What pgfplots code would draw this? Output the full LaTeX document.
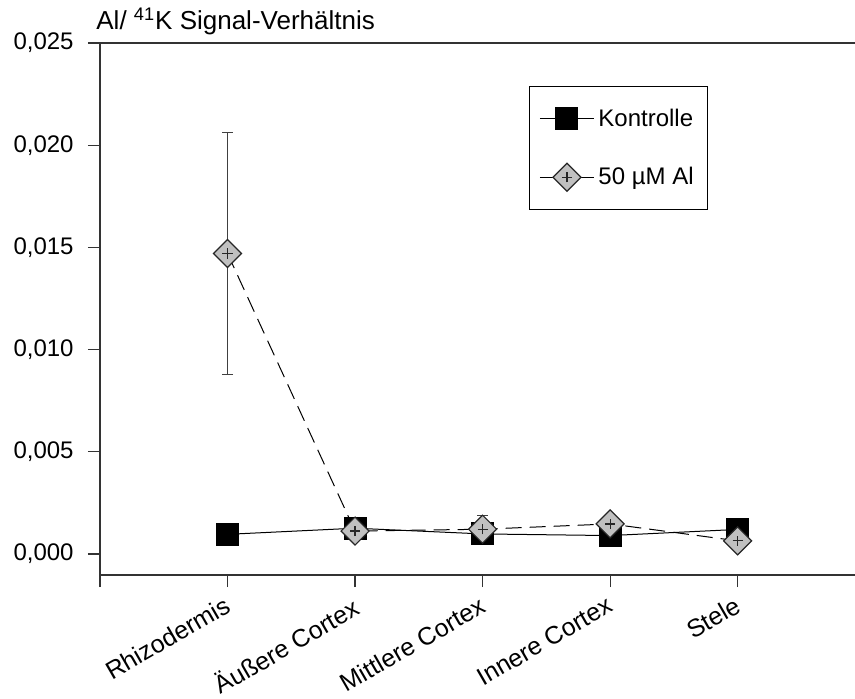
\documentclass[border=0pt]{standalone}
\usepackage{pgfplots}
\pgfplotsset{compat=1.18}
\usepackage{fontspec}
\setmainfont{Liberation Sans}
\definecolor{markgray}{HTML}{C0C0C0}
\pgfdeclareplotmark{dplus}{%
  \pgfpathmoveto{\pgfqpoint{0pt}{\pgfplotmarksize}}%
  \pgfpathlineto{\pgfqpoint{\pgfplotmarksize}{0pt}}%
  \pgfpathlineto{\pgfqpoint{0pt}{-\pgfplotmarksize}}%
  \pgfpathlineto{\pgfqpoint{-\pgfplotmarksize}{0pt}}%
  \pgfpathclose
  \pgfusepathqfillstroke
  \pgfpathmoveto{\pgfqpoint{-0.36\pgfplotmarksize}{0pt}}%
  \pgfpathlineto{\pgfqpoint{0.36\pgfplotmarksize}{0pt}}%
  \pgfpathmoveto{\pgfqpoint{0pt}{-0.36\pgfplotmarksize}}%
  \pgfpathlineto{\pgfqpoint{0pt}{0.36\pgfplotmarksize}}%
  \pgfusepathqstroke
}
\begin{document}
\begin{tikzpicture}[font=\fontsize{12}{14}\selectfont]
\begin{axis}[
  scale only axis,
  width=377.5pt, height=266pt,
  xmin=-1, xmax=4.92,
  ymin=-0.00103, ymax=0.025,
  axis x line*=bottom, axis y line*=left,
  axis line style={line width=0.6pt, black!80},
  tick align=outside,
  major tick length=6pt,
  tick style={line width=0.6pt, black!80},
  xtick={-1,0,1,2,3,4},
  xticklabels={,Rhizodermis,Äußere Cortex,Mittlere Cortex,Innere Cortex,Stele},
  xticklabel style={xshift=-2pt, yshift=-4pt, rotate=30, anchor=north east, inner sep=0pt, font=\fontsize{12.5}{14}\selectfont},
  ytick={0,0.005,0.01,0.015,0.02,0.025},
  scaled y ticks=false,
  yticklabel style={inner sep=0pt, xshift=-7pt,
    /pgf/number format/fixed, /pgf/number format/fixed zerofill,
    /pgf/number format/precision=3, /pgf/number format/use comma,
    /pgf/number format/assume math mode=true},
  clip=false,
  legend style={at={(rel axis cs:0.568,0.919)}, anchor=north west, draw=black, line width=0.6pt,
    inner xsep=5pt, inner ysep=9pt, row sep=15pt,
    font=\fontsize{12}{14}\selectfont,
    nodes={inner sep=2pt},
    /tikz/every even column/.append style={column sep=4pt}},
  legend cell align=left,
  legend image code/.code={\draw[mark repeat=2,mark phase=2,#1,solid] plot coordinates {(0pt,0pt) (13.5pt,0pt) (27pt,0pt)};},
]
\draw[line width=0.6pt, black!80] (rel axis cs:0,1) -- (rel axis cs:1,1);
\coordinate (bl) at (rel axis cs:0,0);
\coordinate (tr) at (rel axis cs:1,1);
\node[anchor=south west, inner sep=0pt, xshift=-2pt, yshift=4pt, font=\fontsize{13}{15}\selectfont] at (rel axis cs:0,1) {Al/ \textsuperscript{41}K Signal-Verhältnis};

\addplot[black, line width=0.5pt, mark=square*, mark size=5.5pt, mark options={fill=black, solid}]
  coordinates {(0,0.00096) (1,0.00126) (2,0.00098) (3,0.0009) (4,0.0012)};
\addlegendentry{Kontrolle}

\addplot[black, line width=0.5pt, dash pattern=on 8pt off 4pt, mark=dplus, mark size=7pt,
  mark options={solid, fill=markgray, draw=black!85, line width=0.6pt},
  error bars/.cd, y dir=both, y explicit,
  error bar style={solid, line width=0.5pt, black!75},
  error mark options={rotate=90, mark size=2.75pt, black!75, line width=0.5pt}]
  table[x=x, y=y, y error=e] {
x y e
0 0.0147 0.0059
1 0.00112 0
2 0.00121 0.00068
3 0.00147 0
4 0.00064 0
};
\addlegendentry{50 µM Al}
\end{axis}
\pgfresetboundingbox
\path (bl) ++(-50pt,-61.5pt) coordinate (BL);
\path (tr) ++(0pt,21.5pt) coordinate (TR);
\useasboundingbox (BL) rectangle (TR);
\end{tikzpicture}
\end{document}
